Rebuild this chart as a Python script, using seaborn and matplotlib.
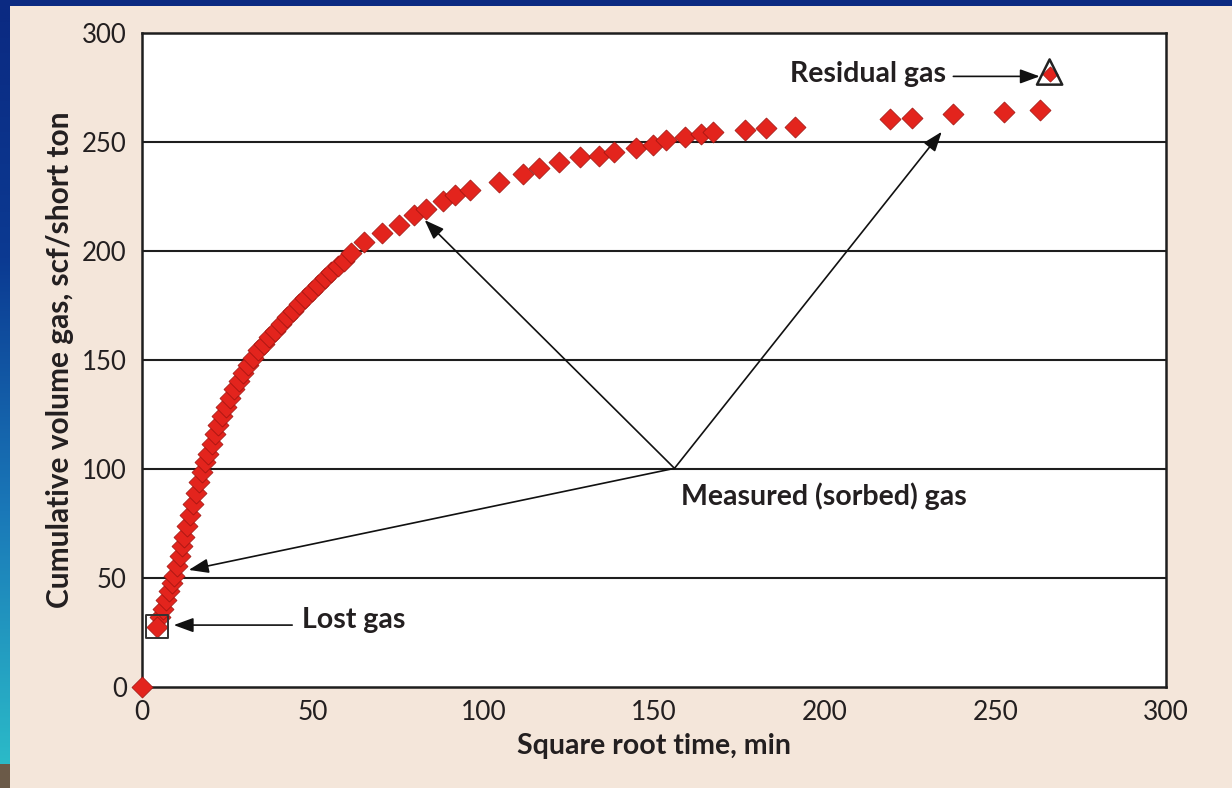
import numpy as np
import pandas as pd
import matplotlib
matplotlib.use("Agg")
import matplotlib.pyplot as plt
from matplotlib.patches import Rectangle
import seaborn as sns

# measured (sorbed) gas
measured_x = [0.0, 5.3, 6.2, 7.1, 8.0, 8.8, 9.5, 10.3, 11.0, 11.7, 12.4, 13.2, 14.0,
              14.9, 15.8, 16.7, 17.6, 18.5, 19.4, 20.4, 21.4, 22.4, 23.5, 24.6, 25.8,
              27.0, 28.3, 29.6, 31.0, 32.5, 34.0, 35.6, 37.2, 38.9, 40.6, 42.4, 44.2,
              46.0, 47.9, 49.8, 51.7, 53.6, 55.5, 57.4, 59.2, 61.1,
              65.1, 70.4, 75.3, 79.7, 83.2, 88.1, 91.7, 96.2, 104.7, 111.7, 116.4,
              122.3, 128.2, 134.0, 138.4, 144.8, 149.7, 153.5, 159.1, 163.9, 167.3,
              176.6, 182.9, 191.3, 219.2, 225.5, 237.7, 252.4, 263.2]
measured_y = [0.0, 32.0, 36.0, 40.0, 44.0, 47.5, 51.0, 55.5, 60.0, 64.5, 69.0, 74.0, 79.0,
              84.0, 89.0, 94.0, 98.5, 103.0, 107.0, 111.5, 116.0, 120.0, 124.5, 128.5, 132.5,
              136.5, 140.5, 144.0, 147.5, 151.0, 154.5, 157.5, 160.5, 163.5, 166.5, 169.5, 172.5,
              175.5, 178.5, 181.5, 184.5, 187.5, 190.5, 193.0, 195.5, 199.0,
              204.3, 208.1, 211.9, 216.5, 219.3, 223.1, 225.7, 228.0, 231.8, 235.3, 237.9,
              240.7, 243.0, 243.8, 245.6, 247.1, 248.6, 250.9, 252.2, 253.7, 254.7,
              255.5, 256.3, 257.1, 260.4, 261.1, 262.8, 263.9, 264.7]

lost_x = [4.4]
lost_y = [27.7]
residual_x = [265.9]
residual_y = [282.1]

x_ticks = [0, 50, 100, 150, 200, 250, 300]
y_ticks = [0, 50, 100, 150, 200, 250, 300]

RED = "#e3241d"
EDGE = "#9c1410"
PAPER = "#f4e6da"
INK = "#231f20"

sns.set_style("white")
plt.rcParams["font.family"] = ["Lato", "DejaVu Sans"]

fig = plt.figure(figsize=(12.32, 7.88), dpi=100, facecolor=PAPER)

# blue slide frame (top bar and gradient strip on the left)
fig.patches.append(Rectangle((0, 1 - 6 / 788), 1, 6 / 788, transform=fig.transFigure,
                             facecolor="#0b2a82", edgecolor="none", zorder=0))
strip = fig.add_axes([0, 0.03, 10 / 1232, 0.97 - 6 / 788])
grad = np.linspace(0, 1, 256).reshape(-1, 1)
cmap = matplotlib.colors.LinearSegmentedColormap.from_list(
    "frame", ["#0b2a82", "#0b3a92", "#1a78b8", "#2bbac8"])
strip.imshow(grad, aspect="auto", cmap=cmap)
strip.set_axis_off()
fig.patches.append(Rectangle((0, 0), 10 / 1232, 0.03, transform=fig.transFigure,
                             facecolor="#6b5a48", edgecolor="none", zorder=0))

ax = fig.add_axes([142 / 1232, 1 - 687 / 788, 1024 / 1232, 654 / 788])
ax.set_facecolor("white")

for yv in y_ticks[1:-1]:
    ax.axhline(yv, color="#1e1e1e", lw=1.5, zorder=1)

df = pd.DataFrame({"x": measured_x, "y": measured_y})
sns.scatterplot(data=df, x="x", y="y", marker="D", s=115, color=RED,
                edgecolor=EDGE, linewidth=0.5, ax=ax, zorder=3, clip_on=False)

# lost gas point and its box
sns.scatterplot(x=lost_x, y=lost_y, marker="D", s=115, color=RED,
                edgecolor=EDGE, linewidth=0.5, ax=ax, zorder=3)
ax.scatter(lost_x, lost_y, marker="s", s=260, facecolor="none",
           edgecolor="#333333", linewidth=1.4, zorder=4)

# residual gas point inside a triangle
ax.scatter(residual_x, residual_y, marker="^", s=330, facecolor="none",
           edgecolor="#222222", linewidth=1.8, zorder=4)
sns.scatterplot(x=residual_x, y=[residual_y[0] - 0.8], marker="D", s=60, color=RED,
                edgecolor=EDGE, linewidth=0.5, ax=ax, zorder=3)

arrow = dict(arrowstyle="-|>,head_length=0.6,head_width=0.22", color="#111111",
             lw=1.2, mutation_scale=20, shrinkA=0, shrinkB=0)
lab = dict(fontsize=20.5, fontweight="bold", color=INK)

ax.annotate("", xy=(9.3, 28.4), xytext=(44.0, 28.4), arrowprops=arrow, zorder=5)
ax.text(47.0, 30.7, "Lost gas", va="center", ha="left", **lab)

ax.annotate("", xy=(263.0, 280.1), xytext=(237.7, 280.1), arrowprops=arrow, zorder=5)
ax.text(235.5, 281.0, "Residual gas", va="center", ha="right", **lab)

hub = (156.0, 100.3)
for tip in [(13.7, 53.7), (82.8, 214.2), (234.3, 254.7)]:
    ax.annotate("", xy=tip, xytext=hub, arrowprops=arrow, zorder=5)
ax.text(157.9, 87.3, "Measured (sorbed) gas", va="center", ha="left", **lab)

ax.set_xlim(0, 300)
ax.set_ylim(0, 300)
ax.set_xticks(x_ticks)
ax.set_yticks(y_ticks)
ax.tick_params(axis="x", direction="in", length=16, width=1.4, color="#222222",
               labelsize=19, pad=9, labelcolor=INK)
ax.tick_params(axis="y", length=0, labelsize=18.5, pad=11, labelcolor=INK)
for sp in ax.spines.values():
    sp.set_color("#1e1e1e")
    sp.set_linewidth(1.8)

ax.set_xlabel("Square root time, min", fontsize=20.5, fontweight="bold",
              color=INK, labelpad=6)
ax.set_ylabel("Cumulative volume gas, scf/short ton", fontsize=21.5,
              fontweight="bold", color=INK, labelpad=6)

fig.savefig("out.png", dpi=100, facecolor=PAPER)
